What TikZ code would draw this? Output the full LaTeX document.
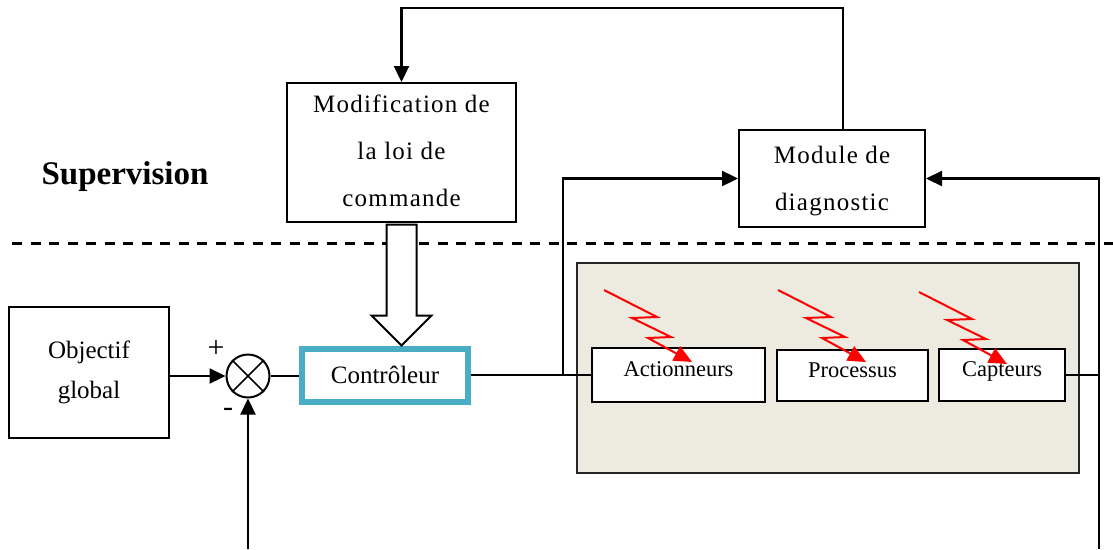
\documentclass[tikz,border=0pt]{standalone}
\usepackage{fontspec}
\setmainfont{Liberation Serif}
\usetikzlibrary{positioning,calc,arrows.meta}
\definecolor{ctrlblue}{HTML}{4BACC6}
\definecolor{plantgray}{HTML}{EDEAE0}
\begin{document}
\begin{tikzpicture}[x=1pt, y=-1pt,
        box/.style={draw, line width=2pt, align=center, inner sep=0pt, fill=white},
        wire/.style={line width=2.3pt},
        arr/.style={wire, -{Triangle[length=16pt,width=15pt]}},
        bolt/.style={red, line width=2pt, -{Triangle[length=18pt,width=16pt]}},
        bigtxt/.style={font=\fontsize{25}{47}\selectfont\addfontfeatures{LetterSpace=5}},
        smalltxt/.style={font=\fontsize{22.5}{27}\selectfont, text depth=11pt}]
        \useasboundingbox (0,0) rectangle (1113,549);
        % separator
        \node[font=\fontsize{33}{40}\selectfont\bfseries] (sup) at (125,177) {Supervision};
        \draw[line width=3pt, dash pattern=on 10pt off 8.5pt] (12,243) -- (1113,243);
        % blocks
        \node[box, minimum width=160, minimum height=131, font=\fontsize{25}{40}\selectfont] (obj) at (89,372.5) {Objectif\\global};
        \node[draw, circle, line width=2pt, minimum size=43, inner sep=0pt] (sum) at (248,376) {};
        \draw[line width=1.6pt] (sum.north east) -- (sum.south west) (sum.north west) -- (sum.south east);
        \node[font=\fontsize{30}{34}\selectfont] (plus) at (216,349) {+};
        \node[font=\fontsize{30}{34}\selectfont] (minus) at (228,412) {-};
        \node[box, draw=ctrlblue, line width=6pt, minimum width=166, minimum height=53, font=\fontsize{25}{30}\selectfont] (ctrl) at (385,375) {Contrôleur};
        \node[box, minimum width=229, minimum height=139, bigtxt, text depth=4pt] (modif) at (401.5,152.5) {Modification de\\la loi de\\commande};
        \node[box, minimum width=186, minimum height=97, bigtxt, text depth=1pt] (diag) at (832,178.5) {Module de\\diagnostic};
        % process
        \node[box, draw=black!85, fill=plantgray, minimum width=502, minimum height=210] (plant) at (828,368) {};
        \node[box, minimum width=173, minimum height=54, smalltxt] (act) at (678.5,375) {Actionneurs};
        \node[box, minimum width=151, minimum height=51, smalltxt] (proc) at (852.5,375.5) {Processus};
        \node[box, minimum width=126.5, minimum height=52, smalltxt] (capt) at (1002,375) {Capteurs};
        % faults
        \foreach \sx/\sy in {604/290, 778/290, 919/292}
            \draw[bolt] (\sx,\sy) -- ++(53,27) -- ++(-25,1) -- ++(39,19) -- ++(-23,1) -- ++(44,24);
        % connections
        \coordinate (fbl) at (248,549);
        \coordinate (br) at (563,0);
        \coordinate (fbr) at (1099,0);
        \draw[arr] (sum.west -| obj.east) -- (sum.west);
        \draw[line width=1.6pt] (sum.east) -- (sum.east -| ctrl.west);
        \draw[arr] (sum.south |- fbl) -- (sum.south);
        \draw[wire] (ctrl.east) -- (act.west);
        \draw[arr] (br |- ctrl.east) |- (diag.west);
        \draw[arr] ([xshift=11pt]diag.north) -- ++(0,-121) -| (modif.north);
        \draw[wire] (capt.east) -- (capt.east -| fbr);
        \draw[arr] (capt.east -| fbr) |- (diag.east);
        \draw[wire] (capt.east -| fbr) -- (fbr |- fbl);
        % hollow arrow
        \coordinate (tip) at (modif.south |- ctrl.north);
        \draw[line width=2pt, fill=white] (tip) -- ++(30,-30) -- ++(-15,0) -- ++(0,-91) -- ++(-30,0) -- ++(0,91) -- ++(-15,0) -- cycle;
    \end{tikzpicture}
\end{document}
